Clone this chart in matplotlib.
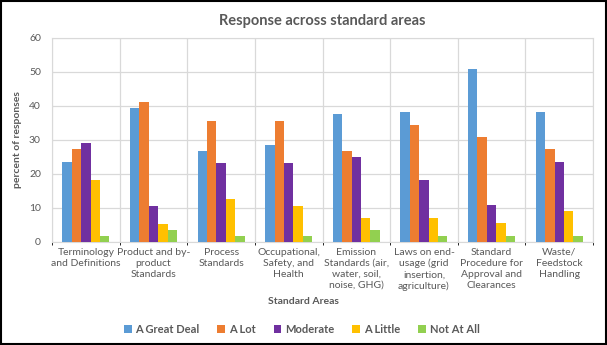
import matplotlib
matplotlib.use("Agg")
import matplotlib.pyplot as plt
import numpy as np
from matplotlib.patches import Rectangle

# Survey responses (percent) per standard area
categories = [
    "Terminology\nand Definitions",
    "Product and by-\nproduct\nStandards",
    "Process\nStandards",
    "Occupational,\nSafety, and\nHealth",
    "Emission\nStandards (air,\nwater, soil,\nnoise, GHG)",
    "Laws on end-\nusage (grid\ninsertion,\nagriculture)",
    "Standard\nProcedure for\nApproval and\nClearances",
    "Waste/\nFeedstock\nHandling",
]
great_deal = [23.6, 39.3, 26.7, 28.5, 37.5, 38.2, 51.0, 38.2]
a_lot = [27.3, 41.1, 35.7, 35.7, 26.8, 34.5, 30.9, 27.3]
moderate = [29.1, 10.7, 23.2, 23.2, 25.0, 18.2, 10.9, 23.6]
a_little = [18.2, 5.4, 12.5, 10.7, 7.1, 7.1, 5.5, 9.1]
not_at_all = [1.8, 3.6, 1.8, 1.8, 3.6, 1.8, 1.8, 1.8]

series = ["A Great Deal", "A Lot", "Moderate", "A Little", "Not At All"]
colors = ["#5B9BD5", "#ED7D31", "#7030A0", "#FFC000", "#92D050"]
values = [great_deal, a_lot, moderate, a_little, not_at_all]

plt.rcParams["font.family"] = ["Lato", "DejaVu Sans"]
text_grey = "#595959"
grid_grey = "#D9D9D9"

fig = plt.figure(figsize=(6.07, 3.45), dpi=100)
ax = fig.add_axes([0.0857, 0.2986, 0.8913, 0.5914])

x = np.arange(len(categories))
bar_w = 0.139
for i, (name, vals, col) in enumerate(zip(series, values, colors)):
    ax.bar(x + (i - 2) * bar_w, vals, width=bar_w, color=col, label=name, zorder=3)

ax.set_xlim(-0.5, len(categories) - 0.5)
ax.set_ylim(0, 60)
ax.set_yticks(range(0, 61, 10))
ax.set_xticks(x)
ax.set_xticklabels(categories, fontsize=7.5, color=text_grey, linespacing=1.3)
ax.tick_params(axis="y", labelsize=7.5, colors=text_grey, length=0, pad=8)
ax.tick_params(axis="x", length=0, pad=4)

# category separators and horizontal grid
ax.set_xticks(np.arange(-0.5, len(categories), 1.0), minor=True)
ax.grid(axis="x", which="minor", color=grid_grey, linewidth=0.9, zorder=0)
ax.grid(axis="y", which="major", color=grid_grey, linewidth=0.9, zorder=0)
for side in ["top", "right", "left", "bottom"]:
    ax.spines[side].set_color(grid_grey)

ax.set_title("Response across standard areas", fontsize=10.5, fontweight="bold",
             color=text_grey, pad=9)
ax.set_ylabel("percent of responses", fontsize=7.5, fontweight="bold",
              color=text_grey, labelpad=5)
fig.text(0.5, 0.127, "Standard Areas", ha="center", va="center",
         fontsize=7.5, fontweight="bold", color=text_grey)

leg = fig.legend(loc="center", bbox_to_anchor=(0.497, 0.046), ncol=5, frameon=False,
                 handlelength=0.7, handleheight=0.7, handletextpad=0.35,
                 columnspacing=1.6, prop={"size": 8, "weight": "bold"})
for t in leg.get_texts():
    t.set_color(text_grey)

# picture frame
fig.patches.append(Rectangle((0.002, 0.003), 0.996, 0.994, transform=fig.transFigure,
                             fill=False, edgecolor="black", linewidth=1.5))

fig.savefig("out.png", dpi=100)
